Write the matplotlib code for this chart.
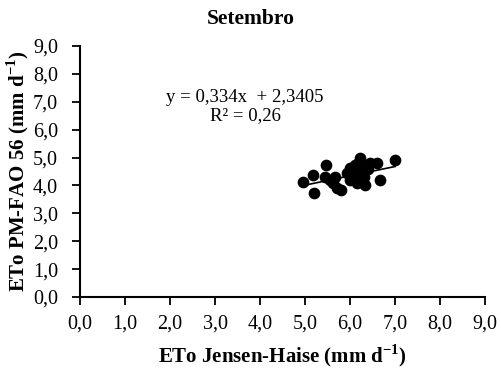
import numpy as np
import matplotlib
matplotlib.use("Agg")
import matplotlib.pyplot as plt

plt.rcParams['font.family'] = ['Liberation Serif', 'DejaVu Serif']
plt.rcParams['mathtext.fontset'] = 'custom'
plt.rcParams['mathtext.rm'] = 'Liberation Serif'
plt.rcParams['mathtext.bf'] = 'Liberation Serif:bold'

# daily values, September
eto_jh = [4.96, 5.17, 5.20, 5.47, 5.44, 5.67, 5.70, 5.81, 6.00, 6.22,
          6.11, 6.29, 6.33, 6.44, 6.59, 6.67, 7.00, 5.93, 6.16, 6.00,
          5.63, 6.10, 6.25, 6.35, 6.05, 6.20, 6.40, 5.55, 6.30, 6.15]
eto_pm = [4.13, 4.37, 3.72, 4.73, 4.31, 4.31, 3.90, 3.83, 4.61, 4.97,
          4.31, 4.44, 4.01, 4.80, 4.79, 4.19, 4.91, 4.43, 4.60, 4.19,
          4.07, 4.75, 4.55, 4.65, 4.40, 4.85, 4.60, 4.20, 4.30, 4.10]

slope, intercept = 0.334, 2.3405
ticks = np.arange(0, 9.01, 1.0)
tick_labels = ['{:.1f}'.format(t).replace('.', ',') for t in ticks]

fig = plt.figure(figsize=(5.01, 3.68), dpi=100)
ax = fig.add_axes([0.16, 0.193, 0.808, 0.682])

ax.scatter(eto_jh, eto_pm, s=55, color='black', zorder=3)
xf = np.array([min(eto_jh), max(eto_jh)])
ax.plot(xf, slope * xf + intercept, color='black', lw=1.2, zorder=4)

ax.text(3.67, 7.17, 'y = 0,334x  + 2,3405', ha='center', va='center', fontsize=13.5)
ax.text(3.67, 6.5, 'R² = 0,26', ha='center', va='center', fontsize=13.5)

ax.set_xlim(0, 9)
ax.set_ylim(0, 9)
ax.set_xticks(ticks)
ax.set_xticklabels(tick_labels)
ax.set_yticks(ticks)
ax.set_yticklabels(tick_labels)
ax.tick_params(labelsize=14.5, width=1.3, length=6, direction='out', color='black')
ax.tick_params(axis='x', pad=7)
ax.tick_params(axis='y', pad=10)
for s in ['top', 'right']:
    ax.spines[s].set_visible(False)
for s in ['left', 'bottom']:
    ax.spines[s].set_linewidth(1.5)

ax.set_xlabel(r'ETo Jensen-Haise (mm d$^{\mathbf{-1}}$)', fontsize=15, fontweight='bold', labelpad=6)
ax.set_ylabel(r'ETo PM-FAO 56 (mm d$^{\mathbf{-1}}$)', fontsize=15, fontweight='bold', labelpad=1)
fig.suptitle('Setembro', fontsize=15.5, fontweight='bold', x=0.5, y=0.975)

fig.savefig('out.png', dpi=100)
